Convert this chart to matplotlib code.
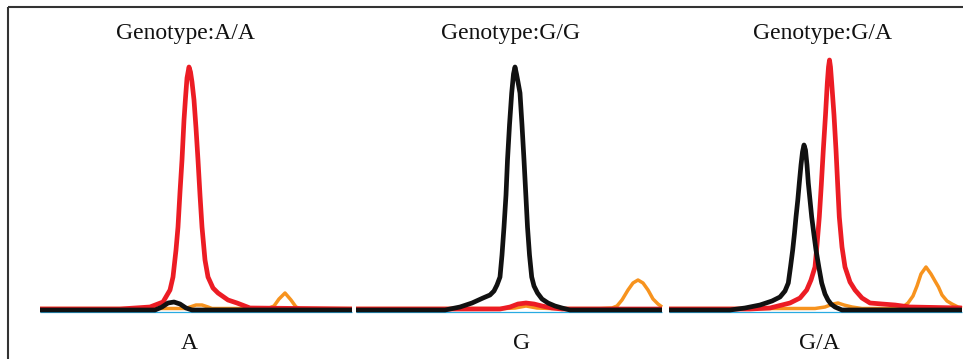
import matplotlib
matplotlib.use("Agg")
import matplotlib.pyplot as plt

# ---- data (scan position, signal) ----
titles = ["Genotype:A/A", "Genotype:G/G", "Genotype:G/A"]
title_pos = [185, 511, 823]
base_labels = ["A", "G", "G/A"]
base_label_pos = [189, 522, 819]

# Panel 1: A/A
aa_red_x = [40, 120, 150, 163, 170, 173, 176, 178, 180, 182, 184, 185.5, 187, 189, 190.5, 192, 194, 196, 198, 200, 202, 205, 208, 213, 218, 228, 237, 250, 352]
aa_red_y = [1, 1, 3, 8, 20, 33, 60, 83, 118, 150, 190, 212, 232, 243, 238, 228, 210, 182, 150, 115, 83, 50, 33, 22, 17, 10, 7, 2, 1]
aa_black_x = [40, 155, 162, 168, 174, 180, 186, 192, 352]
aa_black_y = [0, 0, 3, 7, 8, 6, 2, 0, 0]
aa_orange_x = [40, 185, 190, 196, 202, 208, 212, 268, 274, 279, 285, 291, 296, 300, 352]
aa_orange_y = [1.5, 1.5, 3, 5, 5, 3, 1.5, 1.5, 4, 11, 17, 10, 3, 1.5, 1.5]

# Panel 2: G/G
gg_black_x = [356, 445, 460, 472, 483, 490, 494, 497, 500, 502, 504, 506, 507.5, 509.5, 511.7, 513.5, 515, 516.5, 518, 520, 522, 524, 526, 527.5, 529.5, 531.7, 534, 537.5, 542, 548, 555, 562, 570, 662]
gg_black_y = [0, 0, 3, 7, 12, 15, 19, 25, 33, 55, 83, 115, 150, 185, 217, 236, 243, 236, 228, 217, 185, 150, 112, 83, 55, 33, 24, 17, 11, 7, 4, 2, 0, 0]
gg_red_x = [356, 500, 510, 518, 526, 534, 542, 552, 562, 662]
gg_red_y = [1, 1, 3, 6, 7, 6, 4, 2, 1, 1]
gg_orange_x = [356, 505, 515, 526, 537, 550, 600, 612, 617, 622, 628, 633, 638, 643, 648, 653, 658, 662]
gg_orange_y = [1.5, 1.5, 2, 4, 2, 1.5, 1.5, 2, 4, 10, 20, 27, 30, 27, 20, 11, 6, 3]

# Panel 3: G/A
ga_black_x = [669, 730, 745, 760, 772, 780, 785, 788.3, 790.5, 792.7, 794.5, 796, 797.8, 799.3, 801, 802.5, 804, 805.5, 807, 808.3, 810, 811.7, 814, 816, 819, 821.7, 825, 828, 831, 835, 842, 962]
ga_black_y = [0, 0, 2, 5, 9, 13, 19, 27, 43, 60, 77, 93, 110, 127, 145, 158, 165, 160, 145, 127, 110, 93, 75, 60, 42, 27, 16, 10, 6, 3, 0, 0]
ga_red_x = [669, 750, 770, 790, 800, 806.7, 811, 815, 817, 819.3, 821.3, 823.3, 825.5, 827.3, 828.5, 829.5, 830.5, 831.7, 834, 836, 837.7, 839.3, 842, 845, 850, 855, 862, 870, 882, 895, 910, 962]
ga_red_y = [1, 1, 2, 7, 12, 20, 30, 43, 65, 93, 125, 160, 195, 227, 243, 250, 243, 227, 195, 160, 125, 93, 63, 43, 28, 20, 12, 7, 6, 5, 3, 2]
ga_orange_x = [669, 815, 825, 833, 838, 844, 852, 862, 895, 903, 908, 913, 917, 921, 926, 931, 935, 938.5, 942, 947, 952, 958, 962]
ga_orange_y = [1.5, 1.5, 3, 6, 7, 5, 3, 1.5, 1.5, 3, 7, 14, 24, 36, 43, 36, 29, 23, 15, 9, 6, 3, 2]

panel_ranges = [(40, 352), (356, 662), (669, 962)]

RED = "#ec1c24"
BLACK = "#111111"
ORANGE = "#f7931e"
CYAN = "#29abe2"

fig = plt.figure(figsize=(9.65, 3.59), dpi=100)
ax = fig.add_axes([0, 0, 1, 1])
ax.set_xlim(0, 965)
ax.set_ylim(-49, 310)
ax.axis("off")

for (x0, x1) in panel_ranges:
    ax.plot([x0, x1], [-2.2, -2.2], color=CYAN, lw=0.9, solid_capstyle="butt", zorder=1)

traces = [
    (aa_orange_x, aa_orange_y, ORANGE, 2.5, 2),
    (gg_orange_x, gg_orange_y, ORANGE, 2.5, 2),
    (ga_orange_x, ga_orange_y, ORANGE, 2.5, 2),
    (aa_red_x, aa_red_y, RED, 3.4, 3),
    (gg_red_x, gg_red_y, RED, 3.4, 3),
    (ga_red_x, ga_red_y, RED, 3.4, 3),
    (aa_black_x, aa_black_y, BLACK, 3.4, 4),
    (gg_black_x, gg_black_y, BLACK, 3.4, 4),
    (ga_black_x, ga_black_y, BLACK, 3.4, 4),
]
for x, y, c, lw, z in traces:
    ax.plot(x, y, color=c, lw=lw, solid_joinstyle="round", solid_capstyle="butt", zorder=z)

font = dict(family="Liberation Serif", fontsize=17, color="#111111")
for t, xp in zip(titles, title_pos):
    ax.text(xp, 310 - 39.5, t, ha="center", va="baseline", **font)
for t, xp in zip(base_labels, base_label_pos):
    ax.text(xp, 310 - 349.3, t, ha="center", va="baseline", **font)

# frame (left and top edges)
ax.plot([8, 8], [303, -49], color="#333333", lw=1.5, solid_capstyle="butt", clip_on=False)
ax.plot([8, 963], [303, 303], color="#333333", lw=1.5, solid_capstyle="butt", clip_on=False)

fig.savefig("out.png", dpi=100)
